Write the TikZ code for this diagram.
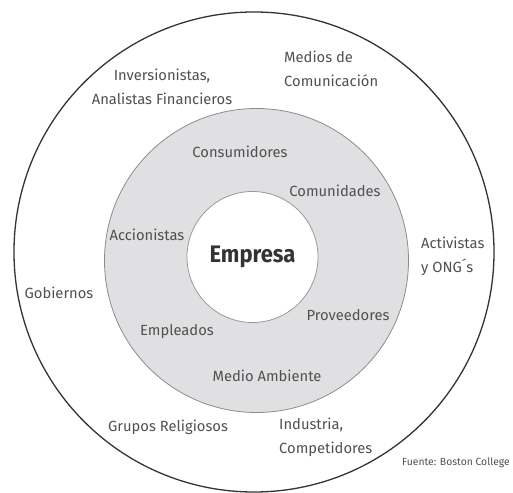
\documentclass[tikz,border=0pt]{standalone}
\usepackage{fontspec}
\setmainfont{Fira Sans}
\usepackage{tikz}
\usetikzlibrary{positioning}
\definecolor{ringgray}{RGB}{224,224,226}
\definecolor{textgray}{RGB}{80,80,80}
\begin{document}
\begin{tikzpicture}[x=1bp,y=-1bp]
\tikzset{ring/.style={circle, draw, inner sep=0pt}}
\tikzset{party/.style={text=textgray, font=\fontsize{14.8}{24}\selectfont, inner sep=0pt}}
\tikzset{partyleft/.style={party, align=left, anchor=west}}
\useasboundingbox (0,0) rectangle (513,493);
% circles
\node[ring, draw=black!80, line width=1.3bp, minimum size=480bp] (outer) at (254,252) {};
\node[ring, draw=black!45, fill=ringgray, line width=0.8bp, minimum size=304bp] (middle) at (256.5,260.5) {};
\node[ring, draw=black!40, fill=white, line width=0.8bp, minimum size=131bp] (inner) at (252.5,257) {};
\node[text=black!80, font=\fontsize{24}{26}\selectfont\bfseries, inner sep=0pt] (empresa) at (inner) {\scalebox{0.92}[1]{Empresa}};
% inner ring
\node[party] (consumidores) at (240,152) {Consumidores};
\node[party] (comunidades) at (335,191) {Comunidades};
\node[party] (accionistas) at (147,235) {Accionistas};
\node[party] (proveedores) at (348,315) {Proveedores};
\node[party] (empleados) at (177,332) {Empleados};
\node[party] (ambiente) at (267,376) {Medio Ambiente};
% outer ring
\node[party, align=center] (inversionistas) at (162,87) {Inversionistas,\\Analistas Financieros};
\node[partyleft] (medios) at (284,69) {Medios de\\Comunicación};
\node[partyleft] (activistas) at (421,256) {Activistas\\y ONG´s};
\node[party] (gobiernos) at (59,293) {Gobiernos};
\node[party] (religiosos) at (168,427) {Grupos Religiosos};
\node[partyleft] (industria) at (279,437) {Industria,\\Competidores};
\node[text=textgray, font=\fontsize{10.4}{12}\selectfont, inner sep=0pt, anchor=east] (fuente) at (510,463) {Fuente: Boston College};
\end{tikzpicture}
\end{document}
